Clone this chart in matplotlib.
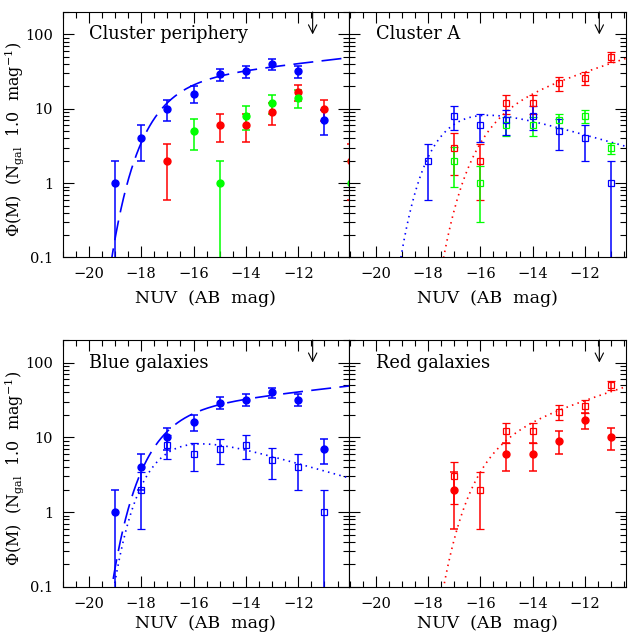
import numpy as np
import matplotlib
matplotlib.use("Agg")
import matplotlib.pyplot as plt
from matplotlib.ticker import MultipleLocator, LogLocator, FixedLocator, NullFormatter, FixedFormatter

plt.rcParams['font.family'] = ['DejaVu Serif']
plt.rcParams['mathtext.fontset'] = 'dejavuserif'

# ---------------- data ----------------
# Cluster periphery
per_blue_M = [-19, -18, -17, -16, -15, -14, -13, -12, -11]
per_blue = [1, 4, 10, 16, 29, 32, 40, 32, 7]
per_blue_err = [1.0, 2.0, 3.2, 4.0, 5.4, 5.7, 6.3, 5.7, 2.6]

per_red_M = [-17, -15, -14, -13, -12, -11, -10]
per_red = [2, 6, 6, 9, 17, 10, 2]
per_red_err = [1.4, 2.4, 2.4, 3.0, 4.1, 3.2, 1.4]

per_green_M = [-16, -15, -14, -13, -12, -10]
per_green = [5, 1, 8, 12, 14, 1]
per_green_err = [2.2, 1.0, 2.8, 3.5, 3.7, 1.0]

# Cluster A
A_blue_M = [-18, -17, -16, -15, -14, -13, -12, -11]
A_blue = [2, 8, 6, 7, 8, 5, 4, 1]
A_blue_err = [1.4, 2.8, 2.4, 2.6, 2.8, 2.2, 2.0, 1.0]

A_red_M = [-17, -16, -15, -14, -13, -12, -11]
A_red = [3, 2, 12, 12, 22, 26, 50]
A_red_err = [1.7, 1.4, 3.5, 3.5, 4.7, 5.1, 7.1]

A_green_M = [-17, -16, -15, -14, -13, -12, -11]
A_green = [2, 1, 6, 6, 7, 8, 3]
A_green_err = [1.1, 0.7, 1.7, 1.7, 1.5, 1.5, 0.5]

# Schechter fits: (M*, alpha, amplitude)
fit_per_blue = (-17.3, -1.10, 25.0)
fit_A_blue = (-17.2, -0.75, 14.85)
fit_A_red = (-15.8, -1.28, 12.0)

completeness_M = -11.45

titles = ["Cluster periphery", "Cluster A", "Blue galaxies", "Red galaxies"]
ytick_vals = [0.1, 1, 10, 100]
ytick_labels = ["0.1", "1", "10", "100"]
xtick_vals = [-20, -18, -16, -14, -12]
xtick_labels = ["\u221220", "\u221218", "\u221216", "\u221214", "\u221212"]

BLUE = '#0000ff'
RED = '#ff0000'
GREEN = '#00ff00'


def schechter(M, p):
    Ms, a, A = p
    x = 10 ** (0.4 * (Ms - M))
    return A * x ** (a + 1) * np.exp(-x)


fig = plt.figure(figsize=(6.43, 6.34), dpi=100)
W, H = 643.0, 634.0
cols = [(62.7, 348.5, (-21.0, -10.08)), (349.0, 626.0, (-21.02, -10.43))]
rows = [(12.0, 257.5), (340.0, 587.0)]

TICK_FS = 10.5
TEXT_FS = 12.8

axes = []
for r, (yt, yb) in enumerate(rows):
    for c, (xl, xr, xlim) in enumerate(cols):
        ax = fig.add_axes([xl / W, 1 - yb / H, (xr - xl) / W, (yb - yt) / H])
        ax.set_yscale('log')
        ax.set_xlim(*xlim)
        ax.set_ylim(0.1, 200)
        ax.xaxis.set_major_locator(FixedLocator(xtick_vals))
        ax.xaxis.set_major_formatter(FixedFormatter(xtick_labels))
        ax.xaxis.set_minor_locator(MultipleLocator(0.5))
        ax.yaxis.set_major_locator(FixedLocator(ytick_vals))
        ax.yaxis.set_minor_locator(LogLocator(base=10, subs=np.arange(2, 10)))
        ax.yaxis.set_minor_formatter(NullFormatter())
        if c == 0:
            ax.yaxis.set_major_formatter(FixedFormatter(ytick_labels))
            ax.set_ylabel("\u03a6(M)  (N$_{\\mathrm{gal}}$  1.0  mag$^{-1}$)",
                          fontsize=11.5)
            ax.yaxis.set_label_coords((26 - xl) / (xr - xl), 0.48)
        else:
            ax.yaxis.set_major_formatter(NullFormatter())
        ax.tick_params(which='both', direction='in', top=True, right=True,
                       width=0.8, colors='black', labelsize=TICK_FS)
        ax.tick_params(which='major', length=8)
        ax.tick_params(which='minor', length=4)
        ax.tick_params(axis='x', which='major', pad=7)
        ax.tick_params(axis='y', which='major', pad=7)
        ax.set_xlabel("NUV  (AB  mag)", fontsize=12.5,
                      labelpad=6 if r == 0 else 3)
        for s in ax.spines.values():
            s.set_linewidth(0.8)
        ax.text(-20.0, 100, titles[2 * r + c], fontsize=TEXT_FS, ha='left',
                va='center')
        ax.annotate('', xy=(completeness_M, 100), xytext=(completeness_M, 200),
                    arrowprops=dict(arrowstyle='->,head_length=0.6,head_width=0.3',
                                    lw=0.8, color='black', shrinkA=0, shrinkB=0,
                                    mutation_scale=10))
        axes.append(ax)


def pts_filled(ax, M, v, e, col):
    ax.errorbar(M, v, yerr=e, fmt='o', color=col, ms=5, mec=col, mfc=col,
                elinewidth=1.1, capsize=3, capthick=1.1, zorder=3)


def pts_open(ax, M, v, e, col):
    ax.errorbar(M, v, yerr=e, fmt='s', color=col, ms=4.3, mec=col, mfc='none',
                mew=0.9, elinewidth=1.1, capsize=3, capthick=1.1, zorder=3)


Mgrid = np.linspace(-21.5, -9.5, 600)
DASH = (0, (12, 5))
DOT = (0, (0.9, 2.6))

# Cluster periphery
ax = axes[0]
pts_filled(ax, per_red_M, per_red, per_red_err, RED)
pts_filled(ax, per_green_M, per_green, per_green_err, GREEN)
pts_filled(ax, per_blue_M, per_blue, per_blue_err, BLUE)
ax.plot(Mgrid, schechter(Mgrid, fit_per_blue), color=BLUE, lw=1.2, ls=DASH)

# Cluster A
ax = axes[1]
pts_open(ax, A_red_M, A_red, A_red_err, RED)
pts_open(ax, A_green_M, A_green, A_green_err, GREEN)
pts_open(ax, A_blue_M, A_blue, A_blue_err, BLUE)
ax.plot(Mgrid, schechter(Mgrid, fit_A_blue), color=BLUE, lw=1.2, ls=DOT)
ax.plot(Mgrid, schechter(Mgrid, fit_A_red), color=RED, lw=1.2, ls=DOT)

# Blue galaxies
ax = axes[2]
pts_filled(ax, per_blue_M, per_blue, per_blue_err, BLUE)
pts_open(ax, A_blue_M, A_blue, A_blue_err, BLUE)
ax.plot(Mgrid, schechter(Mgrid, fit_per_blue), color=BLUE, lw=1.2, ls=DASH)
ax.plot(Mgrid, schechter(Mgrid, fit_A_blue), color=BLUE, lw=1.2, ls=DOT)

# Red galaxies
ax = axes[3]
pts_filled(ax, per_red_M, per_red, per_red_err, RED)
pts_open(ax, A_red_M, A_red, A_red_err, RED)
ax.plot(Mgrid, schechter(Mgrid, fit_A_red), color=RED, lw=1.2, ls=DOT)

fig.savefig("out.png", dpi=100)
